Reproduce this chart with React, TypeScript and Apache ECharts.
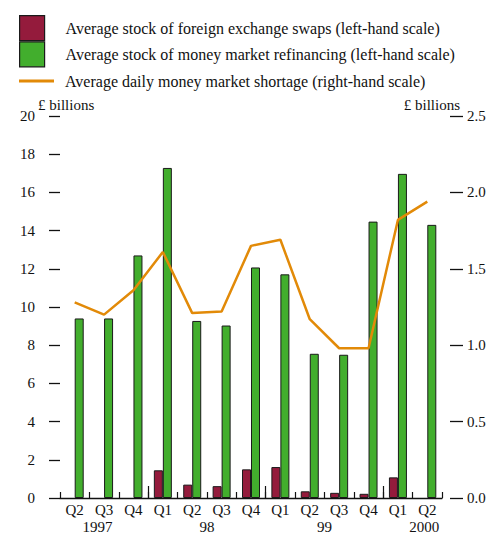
import React, { useEffect, useRef } from "react";
import * as echarts from "echarts";

const quarters = ["Q2", "Q3", "Q4", "Q1", "Q2", "Q3", "Q4", "Q1", "Q2", "Q3", "Q4", "Q1", "Q2"];
const swaps = [null, null, null, 1.45, 0.7, 0.62, 1.5, 1.62, 0.35, 0.27, 0.22, 1.08, null];
const refinancing = [9.4, 9.4, 12.7, 17.28, 9.27, 9.03, 12.07, 11.71, 7.55, 7.5, 14.47, 16.97, 14.3];
const shortage = [1.28, 1.2, 1.36, 1.61, 1.21, 1.22, 1.65, 1.69, 1.17, 0.98, 0.98, 1.82, 1.94];
const yearLabelPos = [1.28, 5, 9, 12.4];
const yearLabelText = ["1997", "98", "99", "2000"];
const yearBoundaries = [3, 7, 11];

const SERIF = "Liberation Serif";
const RED = "#941b3c";
const GREEN = "#42ae2d";
const ORANGE = "#e28a08";

export default function App() {
  const ref = useRef<HTMLDivElement>(null);
  useEffect(() => {
    if (!ref.current) return;
    const chart = echarts.init(ref.current, undefined, { renderer: "svg" });
    const txt = { fontFamily: SERIF, fontSize: 15, color: "#111" };
    const legTxt = { fontFamily: SERIF, fontSize: 16, color: "#111" };
    chart.setOption({
      animation: false,
      backgroundColor: "#fff",
      textStyle: { fontFamily: SERIF },
      legend: [
        {
          data: [
            { name: "Average stock of foreign exchange swaps (left-hand scale)", icon: "rect" },
            { name: "Average stock of money market refinancing (left-hand scale)", icon: "rect" },
          ],
          orient: "vertical",
          left: 19,
          top: 15,
          padding: 0,
          itemWidth: 25,
          itemHeight: 25,
          itemGap: 0,
          selectedMode: false,
          itemStyle: { borderColor: "#1a1a1a", borderWidth: 1.2 },
          textStyle: { ...legTxt, padding: [0, 0, 0, 16] },
        },
        {
          data: [{ name: "Average daily money market shortage (right-hand scale)", icon: "rect" }],
          orient: "vertical",
          left: 19,
          top: 73,
          padding: 0,
          itemWidth: 35,
          itemHeight: 3,
          selectedMode: false,
          itemStyle: { borderWidth: 0 },
          textStyle: { ...legTxt, padding: [0, 0, 0, 6] },
        },
      ],
      grid: { left: 60, right: 47, top: 116, bottom: 43, containLabel: false },
      xAxis: [
        {
          type: "category",
          data: quarters,
          position: "bottom",
          axisLine: { show: true, lineStyle: { color: "#111", width: 1.3 } },
          axisTick: { show: true, inside: true, length: 6, lineStyle: { color: "#111", width: 1.2 } },
          axisLabel: { ...txt, margin: 4, interval: 0 },
          splitLine: { show: false },
        },
        {
          type: "value",
          min: 0,
          max: 13,
          position: "bottom",
          axisLine: { show: false },
          axisTick: { show: true, inside: true, length: 12, customValues: yearBoundaries, lineStyle: { color: "#111", width: 1.2 } },
          axisLabel: {
            ...txt,
            margin: 21,
            customValues: yearLabelPos,
            formatter: (v: number) => {
              const i = yearLabelPos.findIndex((p) => Math.abs(p - v) < 1e-6);
              return i >= 0 ? yearLabelText[i] : "";
            },
          },
          splitLine: { show: false },
        },
      ],
      yAxis: [
        {
          type: "value",
          min: 0,
          max: 20,
          interval: 2,
          position: "left",
          offset: 7,
          axisLine: { show: false },
          axisTick: { show: true, length: 11, lineStyle: { color: "#111", width: 1.3 } },
          axisLabel: { ...txt, margin: 18 },
          splitLine: { show: false },
        },
        {
          type: "value",
          min: 0,
          max: 2.5,
          interval: 0.5,
          position: "right",
          offset: 8,
          axisLine: { show: false },
          axisTick: { show: true, length: 13, lineStyle: { color: "#111", width: 1.3 } },
          axisLabel: { ...txt, margin: 17, formatter: (v: number) => v.toFixed(1) },
          splitLine: { show: false },
        },
      ],
      graphic: [
        { type: "text", left: 38, top: 97, style: { text: "£ billions", font: `15px ${SERIF}`, fill: "#111" } },
        { type: "text", right: 29, top: 97, style: { text: "£ billions", font: `15px ${SERIF}`, fill: "#111" } },
      ],
      series: [
        {
          name: "Average stock of foreign exchange swaps (left-hand scale)",
          type: "bar",
          data: swaps,
          xAxisIndex: 0,
          yAxisIndex: 0,
          barWidth: 9,
          barGap: "0%",
          itemStyle: { color: RED, borderColor: "#1a1a1a", borderWidth: 1 },
        },
        {
          name: "Average stock of money market refinancing (left-hand scale)",
          type: "bar",
          data: refinancing,
          xAxisIndex: 0,
          yAxisIndex: 0,
          barWidth: 9,
          barGap: "0%",
          itemStyle: { color: GREEN, borderColor: "#1a1a1a", borderWidth: 1 },
        },
        {
          name: "Average daily money market shortage (right-hand scale)",
          type: "line",
          data: shortage,
          xAxisIndex: 0,
          yAxisIndex: 1,
          symbol: "none",
          color: ORANGE,
          lineStyle: { color: ORANGE, width: 2.5 },
          z: 5,
        },
      ],
    });
    return () => chart.dispose();
  }, []);
  return <div ref={ref} style={{ position: "fixed", left: 0, top: 0, width: 489, height: 541 }} />;
}
